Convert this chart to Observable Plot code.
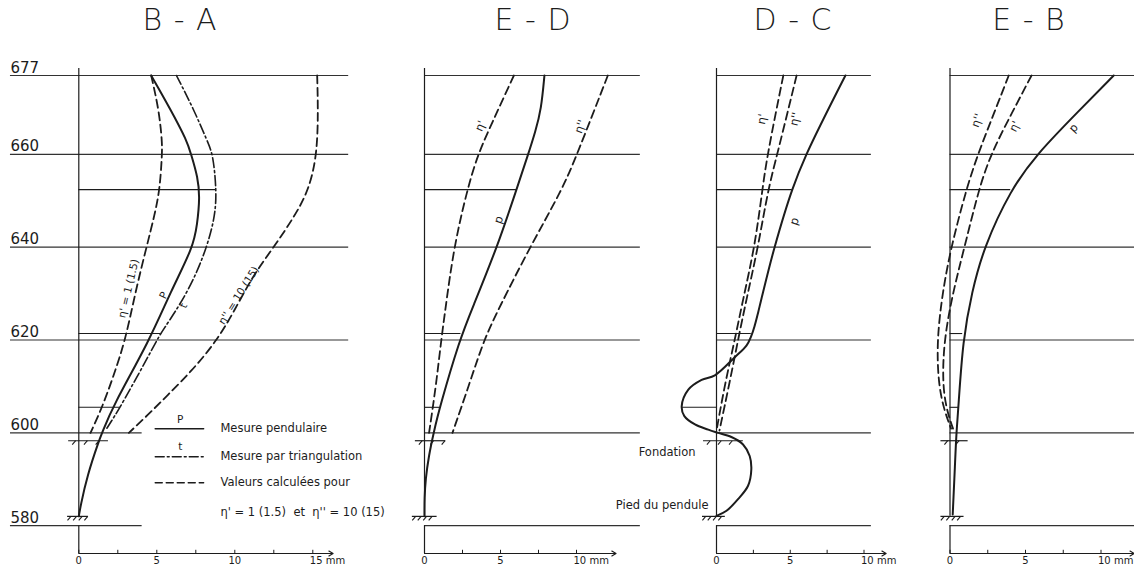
<!DOCTYPE html>
<html>
<head>
<meta charset="utf-8">
<script src="https://cdn.jsdelivr.net/npm/d3@7"></script>
<script src="https://cdn.jsdelivr.net/npm/@observablehq/plot@0.6"></script>
<style>
  body { margin: 0; background: #fff; }
  #wrap { position: relative; width: 1134px; height: 566px; overflow: hidden; background: #fff; }
  #wrap svg { position: absolute; left: 0; top: 0; }
  .title { position: absolute; top: 2px; transform: translateX(-50%); font: 200 30px "DejaVu Sans", sans-serif; color: #1c1c1c; letter-spacing: 1px; white-space: pre; }
</style>
</head>
<body>
<div id="wrap"></div>
<script>
// ---------- data ----------
const panelNames = ["B - A", "E - D", "D - C", "E - B"];
const levels = [677, 660, 640, 620, 600, 580];
const levelNames = ["677", "660", "640", "620", "600", "580"];
const floors = [652.4, 621.4, 605.5];
const foundationLevel = 598.3;
const footLevel = 582;
const axisTopLevel = 678.5;
const baseLevel = 574;

// series: [displacement mm, level]
const BA_p = [[4.64,677],[5.88,669.7],[6.94,662.9],[7.2,660],[7.63,655.1],[7.76,650.7],[7.59,644.9],[7.33,640],[5.88,630.4],[4.55,620],[2.14,605.5],[1.5,600],[1.32,598.6],[0.53,590.7],[0.11,584.2],[0,582]];
const BA_t = [[6.26,677],[7.37,669.7],[8.23,662.9],[8.61,660],[8.82,652.4],[8.76,647.1],[8.23,640],[7.05,630.4],[5.24,621.4],[5.02,620],[2.67,605.5],[1.8,601]];
const BA_e1 = [[4.64,677],[5.13,669.7],[5.34,662.9],[5.34,660],[5.19,652.4],[4.87,647.1],[4.34,640],[3.63,630.4],[2.99,620],[2.24,612.4],[1.5,605.5],[0.75,600]];
const BA_e2 = [[15.28,677],[15.34,669.7],[15.28,660],[14.74,652.2],[13.78,646.4],[12.5,640],[11.2,634.1],[9.94,626.1],[8.87,620],[7.37,613.8],[5.66,608],[4.38,603.7],[3.21,600]];

const ED_p = [[7.89,677],[7.68,669.7],[7.3,665],[6.82,660],[6.05,652.4],[4.78,640],[3.14,626.8],[2.3,620],[1.0,605.5],[0.6,600],[0.28,595],[0.07,590],[0,586],[0,582]];
const ED_e1 = [[5.88,677],[4.85,669.7],[4.38,666.3],[3.51,660],[2.81,652.4],[1.93,640],[1.38,626.8],[1.1,620],[0.75,610],[0.3,600]];
const ED_e2 = [[12.06,677],[10.04,660],[9.06,652.4],[6.93,640],[4.89,626.8],[3.9,620],[2.9,610],[1.84,600]];

const DC_p = [[8.74,677],[6.1,660],[5.14,652.4],[3.94,640],[3.04,628.8],[2.82,625.9],[2.59,623.1],[2.36,620.9],[2.03,618.8],[1.24,616.3],[-0.11,612.4],[-1.01,611.4],[-1.91,609.3],[-2.36,605.7],[-2.18,603.6],[-1.46,601.8],[-0.56,600.7],[0,600.1],[1.01,599.1],[1.8,597.5],[2.25,595],[2.36,592.1],[2.14,588.6],[1.46,585.7],[0.68,583.2],[0,582.1]];
const DC_e1 = [[4.53,677],[3.45,660],[3.11,652.4],[2.59,640],[1.8,628.8],[1.24,620],[0.6,611],[0.0,600.5]];
const DC_e2 = [[5.43,677],[4.12,660],[3.49,652.4],[2.82,640],[2.03,628.8],[1.46,620],[0.9,611],[0.2,600.5]];

const EB_p = [[10.84,677],[8.42,669],[5.73,660],[4.02,652.4],[2.24,640],[1.45,630.4],[0.85,620],[0.56,605.6],[0.42,600],[0.33,593],[0.18,582.4]];
const EB_e2 = [[3.89,677],[2.93,669],[1.84,660],[1.07,652.4],[0.07,640],[-0.49,630.4],[-0.87,620],[-0.78,610.9],[-0.42,605.2],[0.07,600.9]];
const EB_e1 = [[5.4,677],[4.11,669],[2.69,660],[1.9,652.4],[0.96,640],[0.2,630.4],[-0.4,620],[-0.5,610.9],[-0.25,605.2],[0.2,600.9]];

// short floor lines: right/left end (mm) at each floor level
const BA_floorEnds = [8.82, 5.24, 2.67];
const ED_floorEnds = [6.05, 2.4, 1.0];
const DC_floorEnds = [5.14, 2.36, -2.36];
const EB_floorEnds = [4.02, 0.84, 0.56];

// curve labels
const BA_labels = [
  {text: "η' = 1 (1.5)", x: 3.19, y: 631.1, rotate: -77},
  {text: "P", x: 5.44, y: 629.6, rotate: -65},
  {text: "t", x: 6.71, y: 627.4, rotate: -65},
  {text: "η'' = 10 (15)", x: 10.25, y: 629.6, rotate: -58}
];
const ED_labels = [
  {text: "η'", x: 3.68, y: 666.1, rotate: -66},
  {text: "η''", x: 10.26, y: 666, rotate: -70},
  {text: "p", x: 4.89, y: 645.9, rotate: -71}
];
const DC_labels = [
  {text: "η'", x: 3.09, y: 667.6, rotate: -79},
  {text: "η''", x: 5.34, y: 667.6, rotate: -77},
  {text: "p", x: 5.29, y: 645.6, rotate: -71}
];
const EB_labels = [
  {text: "η''", x: 1.8, y: 667.3, rotate: -70},
  {text: "η'", x: 4.29, y: 666, rotate: -64},
  {text: "p", x: 8.18, y: 665.7, rotate: -47}
];

const legendItems = ["Mesure pendulaire", "Mesure par triangulation", "Valeurs calculées pour"];
const legendNote = "η' = 1 (1.5)  et  η'' = 10 (15)";
const DC_notes = ["Fondation", "Pied du pendule"];

const BA_ticks = [0, 2.5, 5, 7.5, 10, 12.5, 15];
const BA_tickLabels = [0, 5, 10, 15];
const small_ticks = [0, 2.5, 5, 7.5, 10];
const small_tickLabels = [0, 5, 10];

// ---------- layout ----------
const ink = "#1c1c1c";
const yDomain = [574, 677];
const yRange = [553, 75];
const dashed = "8,4.5";
const dashdot = "10,3,2,3";

const layout = [
  {x0: 78.3, k: 15.6, gridFrom: -4.38, gridTo: 17.3, lowTo: 4.06, arrowTo: 16.3, title: 180,
   found: [-0.65, 1.9], foot: [-0.72, 0.62]},
  {x0: 424, k: 15.2, gridFrom: 0, gridTo: 14.2, lowTo: 14.2, arrowTo: 12.6, title: 533,
   found: [-0.6, 1.4], foot: [-0.8, 0.83]},
  {x0: 716, k: 14.75, gridFrom: 0, gridTo: 10.5, lowTo: 10.5, arrowTo: 11.5, title: 793,
   found: [-0.88, 1.82], foot: [-0.95, 0.6]},
  {x0: 949.5, k: 15.1, gridFrom: 0, gridTo: 12.4, lowTo: 12.4, arrowTo: 12.2, title: 1029,
   found: [-0.6, 1.2], foot: [-0.6, 0.93]}
];

const panelSeries = [
  [{d: BA_p, w: 2, dash: null}, {d: BA_t, w: 1.6, dash: dashdot}, {d: BA_e1, w: 1.8, dash: dashed}, {d: BA_e2, w: 1.8, dash: dashed}],
  [{d: ED_p, w: 2, dash: null}, {d: ED_e1, w: 1.8, dash: dashed}, {d: ED_e2, w: 1.8, dash: dashed}],
  [{d: DC_p, w: 2, dash: null, curve: "catmull-rom"}, {d: DC_e1, w: 1.8, dash: dashed}, {d: DC_e2, w: 1.8, dash: dashed}],
  [{d: EB_p, w: 2, dash: null}, {d: EB_e1, w: 1.8, dash: dashed}, {d: EB_e2, w: 1.8, dash: dashed}]
];
const panelFloors = [BA_floorEnds, ED_floorEnds, DC_floorEnds, EB_floorEnds];
const panelLabels = [BA_labels, ED_labels, DC_labels, EB_labels];
const panelTicks = [[BA_ticks, BA_tickLabels], [small_ticks, small_tickLabels], [small_ticks, small_tickLabels], [small_ticks, small_tickLabels]];

function hatch(range, level, step) {
  const xs = d3.range(range[0] + step * 0.6, range[1], step);
  return [
    Plot.ruleY([{v: level, x1: range[0], x2: range[1]}], {y: "v", x1: "x1", x2: "x2", stroke: ink, strokeWidth: 1.2}),
    Plot.link(xs, {x1: (d) => d, x2: (d) => d - 0.22, y1: () => level, y2: () => level - 0.85, stroke: ink, strokeWidth: 1.1})
  ];
}

const wrap = document.getElementById("wrap");

layout.forEach((cfg, i) => {
  const marks = [];
  // level lines
  marks.push(Plot.ruleY(levels.map((v) => ({v, x1: cfg.gridFrom, x2: v >= 620 ? cfg.gridTo : cfg.lowTo})),
    {y: "v", x1: "x1", x2: "x2", stroke: ink, strokeWidth: 1.2, strokeOpacity: 0.9}));
  // short floor lines
  marks.push(Plot.ruleY(floors.map((v, j) => ({v, x1: 0, x2: panelFloors[i][j]})),
    {y: "v", x1: "x1", x2: "x2", stroke: ink, strokeWidth: 1.1}));
  // pendulum axis
  marks.push(Plot.ruleX([{x: 0, y1: footLevel, y2: axisTopLevel}], {x: "x", y1: "y1", y2: "y2", stroke: ink, strokeWidth: 1.2}));
  marks.push(Plot.ruleX([{x: 0, y1: baseLevel, y2: 580}], {x: "x", y1: "y1", y2: "y2", stroke: ink, strokeWidth: 1.2}));
  // hatches
  marks.push(...hatch(cfg.found, foundationLevel, 0.75));
  marks.push(...hatch(cfg.foot, footLevel, 0.36));
  // displacement axis
  marks.push(Plot.arrow([{x1: 0, x2: cfg.arrowTo, y: baseLevel}], {x1: "x1", x2: "x2", y1: "y", y2: "y", stroke: ink, strokeWidth: 1.2, headLength: 6}));
  const [ticks, tickLabels] = panelTicks[i];
  marks.push(Plot.link(ticks, {x1: (d) => d, x2: (d) => d, y1: () => baseLevel, y2: () => baseLevel + 0.8, stroke: ink, strokeWidth: 1}));
  marks.push(Plot.text(tickLabels.slice(0, -1), {x: (d) => d, y: () => baseLevel, text: (d) => String(d), dy: 7, fontSize: 10, fill: ink}));
  marks.push(Plot.text(tickLabels.slice(-1), {x: (d) => d, y: () => baseLevel, text: (d) => d + " mm", dy: 7, dx: -3, textAnchor: "start", fontSize: 10, fill: ink}));
  // curves
  for (const s of panelSeries[i]) {
    marks.push(Plot.line(s.d, {x: (d) => d[0], y: (d) => d[1], curve: s.curve || "basis", stroke: ink, strokeWidth: s.w, strokeDasharray: s.dash}));
  }
  // curve labels
  marks.push(Plot.text(panelLabels[i], {x: "x", y: "y", text: "text", rotate: "rotate", fontSize: i === 0 ? 10.5 : 11.5, fill: ink}));

  if (i === 0) {
    // level labels
    marks.push(Plot.text(levels, {x: () => cfg.gridFrom, y: (d) => d, text: (d, j) => levelNames[j], textAnchor: "start", lineAnchor: "bottom", dy: -3, fontSize: 15, fill: ink}));
    // legend
    const legendLines = [
      {y: 600.87, dash: null, w: 1.6},
      {y: 594.84, dash: "9,3,2,3", w: 1.4},
      {y: 589.25, dash: "7,4", w: 1.5}
    ];
    legendLines.forEach((l) => {
      marks.push(Plot.line([[4.9, l.y], [8.0, l.y]], {x: (d) => d[0], y: (d) => d[1], stroke: ink, strokeWidth: l.w, strokeDasharray: l.dash}));
    });
    marks.push(Plot.text(legendItems, {x: () => 9.08, y: (d, j) => legendLines[j].y, text: (d) => d, textAnchor: "start", fontSize: 11.5, fill: ink}));
    marks.push(Plot.text([legendNote], {x: () => 9.08, y: () => 582.8, text: (d) => d, textAnchor: "start", fontSize: 11.5, fill: ink}));
    marks.push(Plot.text(["P", "t"], {x: () => 6.5, y: (d, j) => [602.8, 597.0][j], text: (d) => d, fontSize: 10.5, fill: ink}));
  }
  if (i === 2) {
    marks.push(Plot.text(DC_notes, {x: (d, j) => [-1.42, -0.54][j], y: (d, j) => [595.7, 584.3][j], text: (d) => d, textAnchor: "end", fontSize: 11.5, fill: ink}));
  }

  const svg = Plot.plot({
    width: 1134,
    height: 566,
    margin: 0,
    x: {domain: [0, 10], range: [cfg.x0, cfg.x0 + 10 * cfg.k], axis: null},
    y: {domain: yDomain, range: yRange, axis: null},
    style: {background: "transparent", fontFamily: "DejaVu Sans, sans-serif", overflow: "visible", color: ink},
    marks
  });
  wrap.appendChild(svg);

  const t = document.createElement("div");
  t.className = "title";
  t.style.left = cfg.title + "px";
  t.textContent = panelNames[i];
  wrap.appendChild(t);
});
</script>
</body>
</html>
